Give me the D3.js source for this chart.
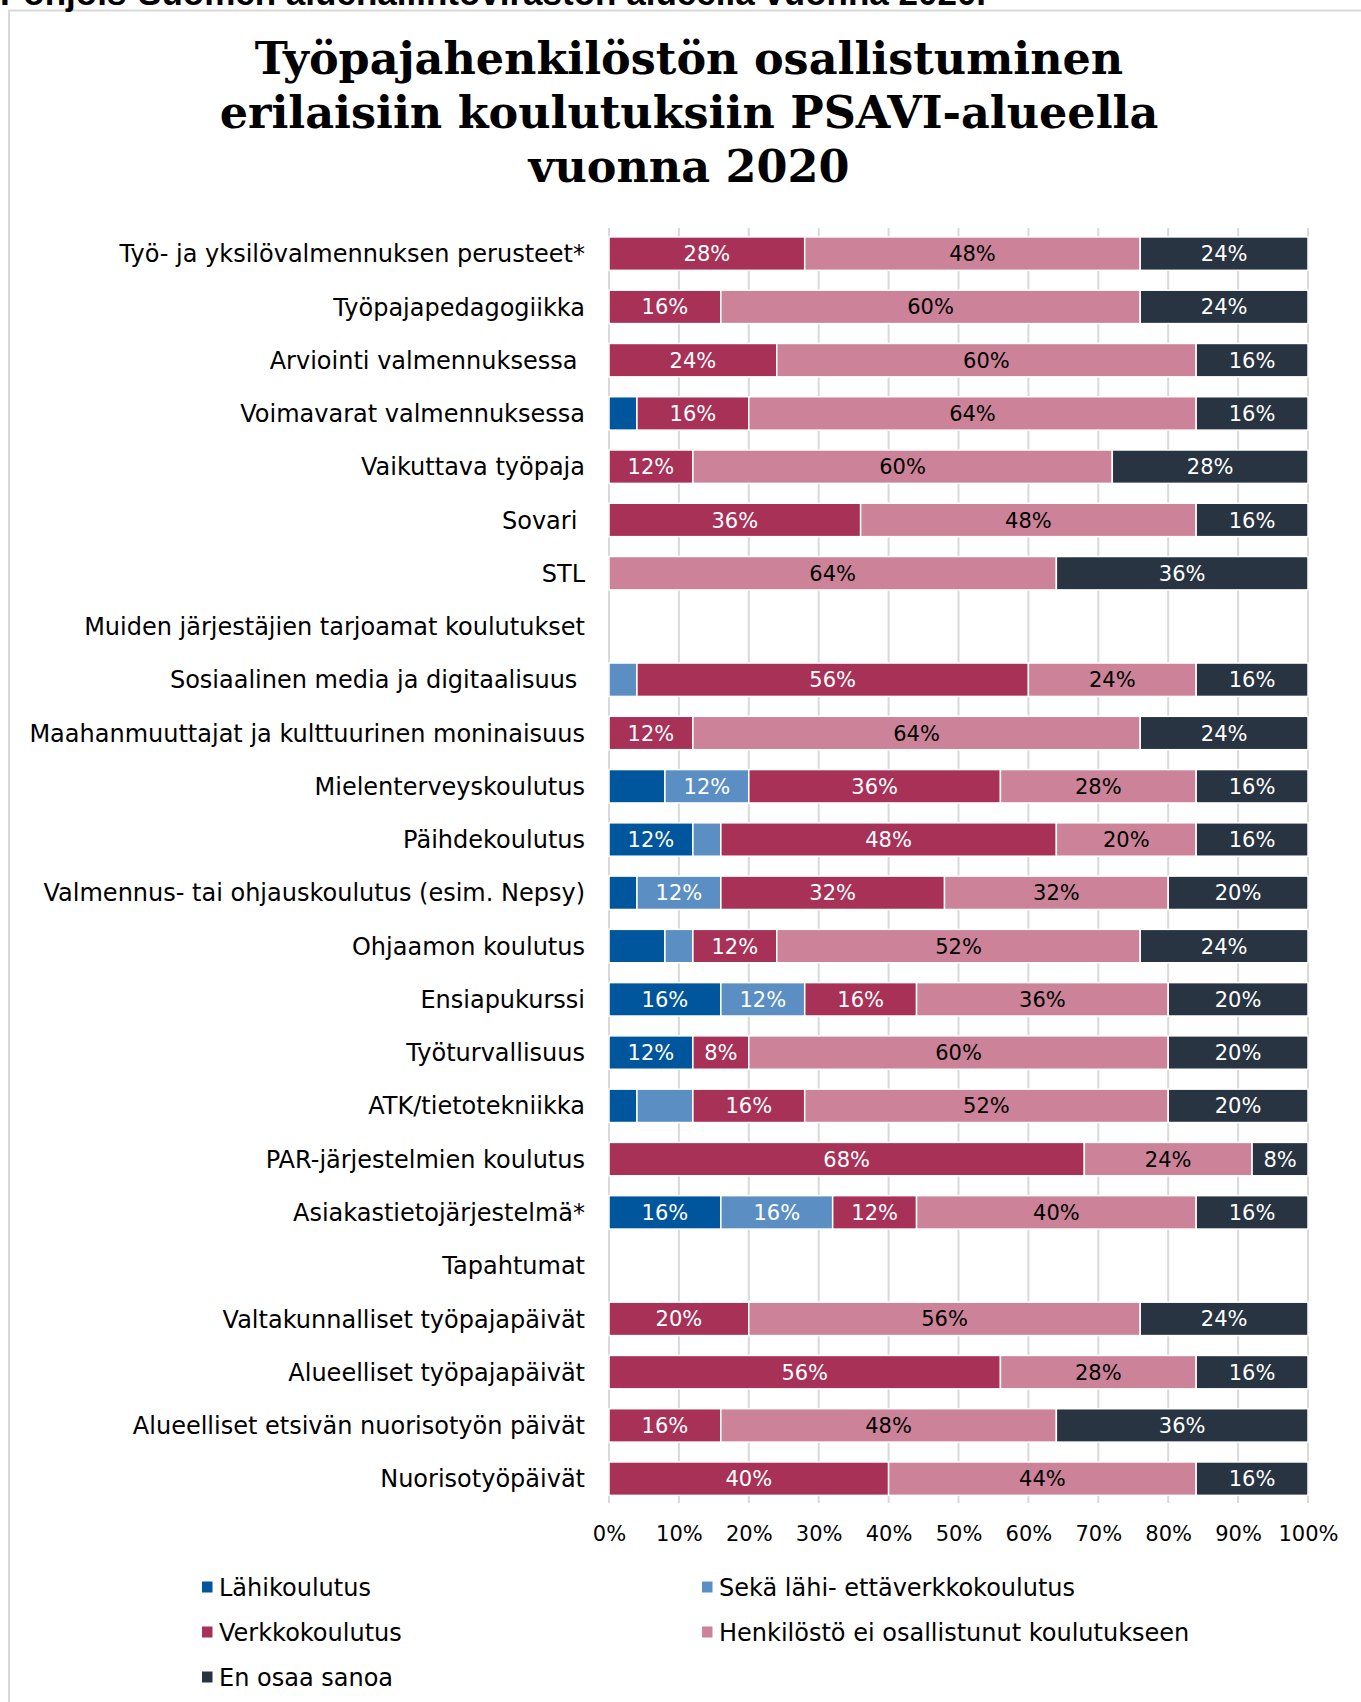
<!DOCTYPE html>
<html>
<head>
<meta charset="utf-8">
<script src="https://cdn.jsdelivr.net/npm/d3@7.9.0/dist/d3.min.js"></script>
<style>
  body { margin: 0; background: #fff; }
  svg { display: block; }
  text { white-space: pre; }
</style>
</head>
<body>
<div id="chart"></div>
<script>
// categories from top to bottom; header rows carry no values (null)
const categories = [
  "Työ- ja yksilövalmennuksen perusteet*",
  "Työpajapedagogiikka",
  "Arviointi valmennuksessa ",
  "Voimavarat valmennuksessa",
  "Vaikuttava työpaja",
  "Sovari ",
  "STL",
  "Muiden järjestäjien tarjoamat koulutukset",
  "Sosiaalinen media ja digitaalisuus ",
  "Maahanmuuttajat ja kulttuurinen moninaisuus",
  "Mielenterveyskoulutus",
  "Päihdekoulutus",
  "Valmennus- tai ohjauskoulutus (esim. Nepsy)",
  "Ohjaamon koulutus",
  "Ensiapukurssi",
  "Työturvallisuus",
  "ATK/tietotekniikka",
  "PAR-järjestelmien koulutus",
  "Asiakastietojärjestelmä*",
  "Tapahtumat",
  "Valtakunnalliset työpajapäivät",
  "Alueelliset työpajapäivät",
  "Alueelliset etsivän nuorisotyön päivät",
  "Nuorisotyöpäivät"
];

const seriesNames = [
  "Lähikoulutus",
  "Sekä lähi- ettäverkkokoulutus",
  "Verkkokoulutus",
  "Henkilöstö ei osallistunut koulutukseen",
  "En osaa sanoa"
];

const lahikoulutus = [0, 0, 0, 4, 0, 0, 0, null, 0, 0, 8, 12, 4, 8, 16, 12, 4, 0, 16, null, 0, 0, 0, 0];
const sekaLahiVerkko = [0, 0, 0, 0, 0, 0, 0, null, 4, 0, 12, 4, 12, 4, 12, 0, 8, 0, 16, null, 0, 0, 0, 0];
const verkkokoulutus = [28, 16, 24, 16, 12, 36, 0, null, 56, 12, 36, 48, 32, 12, 16, 8, 16, 68, 12, null, 20, 56, 16, 40];
const eiOsallistunut = [48, 60, 60, 64, 60, 48, 64, null, 24, 64, 28, 20, 32, 52, 36, 60, 52, 24, 40, null, 56, 28, 48, 44];
const enOsaaSanoa = [24, 24, 16, 16, 28, 16, 36, null, 16, 24, 16, 16, 20, 24, 20, 20, 20, 8, 16, null, 24, 16, 36, 16];

const xTicks = [0, 10, 20, 30, 40, 50, 60, 70, 80, 90, 100];

const colors = ["#00569d", "#5b8fc4", "#a83157", "#cc8299", "#283442"];
const labelColors = ["#fff", "#fff", "#fff", "#000", "#fff"];
const labelMin = [12, 12, 8, 8, 8];

const seriesValues = [lahikoulutus, sekaLahiVerkko, verkkokoulutus, eiOsallistunut, enOsaaSanoa];
const keys = seriesNames;
const table = categories.map((c, i) => {
  const row = { category: c };
  keys.forEach((k, j) => { row[k] = seriesValues[j][i] || 0; });
  return row;
});

const width = 1361, height = 1702;
const svg = d3.select("#chart").append("svg")
  .attr("width", width)
  .attr("height", height);

// frame
svg.append("rect")
  .attr("x", 9).attr("y", 10.5)
  .attr("width", width + 10).attr("height", height + 10)
  .attr("fill", "#fff")
  .attr("stroke", "#d9d9d9")
  .attr("stroke-width", 2);

// cut-off heading above the frame
svg.append("text")
  .attr("x", 0).attr("y", 5)
  .style("font-family", "'Liberation Sans', Arial, sans-serif")
  .style("font-weight", "bold")
  .style("font-size", "35px")
  .text("Pohjois-Suomen aluehallintoviraston alueella vuonna 2020.");

// title
const titleLines = ["Työpajahenkilöstön osallistuminen", "erilaisiin koulutuksiin PSAVI-alueella", "vuonna 2020"];
svg.append("g").selectAll("text")
  .data(titleLines)
  .join("text")
  .attr("x", 689)
  .attr("y", (d, i) => 74 + i * 54)
  .attr("text-anchor", "middle")
  .style("font-family", "'DejaVu Serif', Georgia, serif")
  .style("font-weight", "bold")
  .style("font-size", "44.5px")
  .text(d => d);

const x = d3.scaleLinear().domain([0, 100]).range([609, 1308]);
const y = d3.scaleBand().domain(categories).range([227, 1505.3]).paddingInner(0.373).paddingOuter(0.1865);

// gridlines
svg.append("g").selectAll("line")
  .data(xTicks)
  .join("line")
  .attr("x1", d => x(d)).attr("x2", d => x(d))
  .attr("y1", 228).attr("y2", 1503)
  .attr("stroke", "#d9d9d9")
  .attr("stroke-width", 2);

const stacked = d3.stack().keys(keys)(table);

const layers = svg.append("g").selectAll("g")
  .data(stacked)
  .join("g")
  .attr("fill", (d, i) => colors[i]);

layers.selectAll("rect")
  .data(d => d.filter(s => s[1] - s[0] > 0))
  .join("rect")
  .attr("x", d => x(d[0]))
  .attr("width", d => x(d[1]) - x(d[0]))
  .attr("y", d => y(d.data.category))
  .attr("height", y.bandwidth())
  .attr("stroke", "#fff")
  .attr("stroke-width", 1.5);

layers.each(function (layer, i) {
  d3.select(this).selectAll("text")
    .data(layer.filter(s => s[1] - s[0] >= labelMin[i]))
    .join("text")
    .attr("x", d => (x(d[0]) + x(d[1])) / 2)
    .attr("y", d => y(d.data.category) + y.bandwidth() / 2)
    .attr("dy", "0.36em")
    .attr("text-anchor", "middle")
    .attr("fill", labelColors[i])
    .style("font-family", "'DejaVu Sans', Verdana, sans-serif")
    .style("font-size", "21px")
    .text(d => (d[1] - d[0]) + "%");
});

// category labels
svg.append("g").selectAll("text")
  .data(categories)
  .join("text")
  .attr("x", 585)
  .attr("y", d => y(d) + y.bandwidth() / 2)
  .attr("dy", "0.36em")
  .attr("text-anchor", "end")
  .style("font-family", "'DejaVu Sans', Verdana, sans-serif")
  .style("font-size", "24px")
  .text(d => d);

// x axis
const xAxis = svg.append("g")
  .attr("transform", "translate(0,1505)")
  .call(d3.axisBottom(x).tickValues(xTicks).tickSize(0).tickPadding(21).tickFormat(d => d + "%"));
xAxis.select(".domain").remove();
xAxis.selectAll("text")
  .style("font-family", "'DejaVu Sans', Verdana, sans-serif")
  .style("font-size", "21px")
  .attr("fill", "#000");

// legend
const legendPos = [[202, 1587], [702, 1587], [202, 1632], [702, 1632], [202, 1677]];
const legend = svg.append("g").selectAll("g")
  .data(seriesNames)
  .join("g")
  .attr("transform", (d, i) => `translate(${legendPos[i][0]},${legendPos[i][1]})`);
legend.append("rect")
  .attr("x", 0).attr("y", -5.5)
  .attr("width", 10.5).attr("height", 11)
  .attr("fill", (d, i) => colors[i]);
legend.append("text")
  .attr("x", 17).attr("dy", "0.36em")
  .style("font-family", "'DejaVu Sans', Verdana, sans-serif")
  .style("font-size", "24px")
  .text(d => d);
</script>
</body>
</html>
